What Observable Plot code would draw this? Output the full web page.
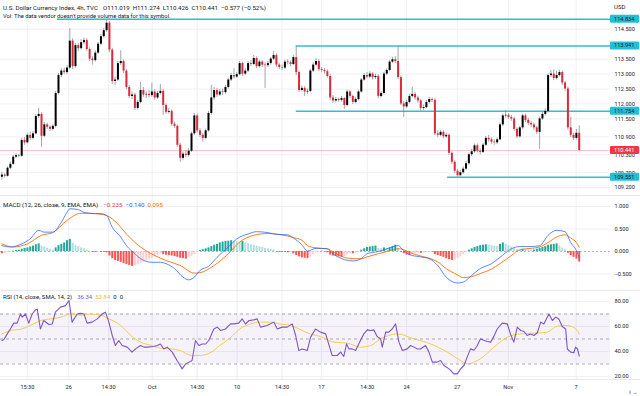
<!DOCTYPE html>
<html><head><meta charset="utf-8">
<script src="https://cdn.jsdelivr.net/npm/d3@7"></script>
<script src="https://cdn.jsdelivr.net/npm/@observablehq/plot@0.6"></script>
<style>
html,body{margin:0;padding:0;background:#fff;}
#chart{position:relative;width:640px;height:396px;overflow:hidden;font-family:Roboto,"Liberation Sans",Arial,sans-serif;color:#131722;}
#chart svg{display:block;}
.t{position:absolute;white-space:nowrap;font-size:6px;line-height:6px;z-index:3;}
.t span{margin-left:3px;}
.sep{position:absolute;left:0;width:640px;height:1px;background:#e6e8ee;z-index:2;}
</style></head>
<body><div id="chart"></div>
<script>
// ---------- DATA ----------
const open = [
109.55,109.62,109.58,109.85,109.98,110.22,110.27,110.25,110.78,110.70,
110.95,110.85,111.00,111.58,111.65,110.92,111.30,111.22,111.15,111.25,
112.35,112.95,113.10,113.05,113.20,114.10,113.25,113.95,113.85,114.05,
114.12,113.82,113.50,113.45,113.70,114.00,114.25,114.45,114.70,113.80,
112.75,112.80,113.35,113.42,113.10,112.55,112.25,112.30,111.85,112.05,
112.45,112.30,112.32,112.28,112.40,112.20,112.35,112.42,111.95,111.72,
111.75,111.32,111.25,110.62,110.18,110.32,110.28,110.42,111.00,111.60,
111.10,110.95,110.85,111.10,111.68,112.20,112.45,112.30,112.40,112.38,
112.55,112.80,112.95,112.90,112.98,113.35,113.00,113.10,113.35,113.32,
113.52,113.25,113.40,113.30,113.28,113.35,113.50,113.62,113.30,113.22,
113.20,113.40,113.38,113.32,113.55,113.05,112.45,112.52,112.40,112.42,
113.10,113.30,113.42,113.15,113.12,113.08,112.92,112.20,112.10,112.15,
112.12,112.18,111.95,112.40,112.25,112.05,112.15,112.40,112.80,112.95,
112.90,113.00,112.88,112.92,112.25,112.35,113.00,113.12,113.40,113.48,
113.42,112.88,112.00,111.90,112.05,112.25,112.32,112.20,112.10,111.85,
111.88,112.05,112.15,112.12,111.00,110.95,111.05,110.90,110.95,110.35,
110.05,109.75,109.60,109.70,109.82,110.00,110.30,110.40,110.60,110.42,
110.38,110.62,110.85,110.80,110.72,110.70,110.80,111.30,111.60,111.62,
111.55,111.50,111.15,110.90,111.20,111.60,111.45,111.35,111.30,111.20,
111.05,111.50,111.65,111.75,112.95,113.00,112.85,112.95,113.05,112.70,
112.50,111.20,110.95,110.85,111.019];
const high = [
109.72,109.68,109.90,110.05,110.28,110.33,110.32,110.85,110.88,111.02,
111.05,111.08,111.65,111.85,111.70,111.38,111.36,111.28,111.32,112.42,
113.02,113.18,113.20,113.28,114.52,114.18,114.02,114.02,114.15,114.20,
114.18,113.88,113.58,113.78,114.06,114.32,114.52,114.80,114.76,113.86,
112.90,113.42,113.78,113.48,113.15,112.62,112.40,112.36,112.12,112.72,
112.55,112.40,112.45,112.70,112.48,112.42,112.65,112.48,112.00,111.85,
111.80,111.40,111.30,110.68,110.40,110.45,110.50,111.06,111.68,111.66,
111.18,111.02,111.16,111.75,112.62,112.55,112.52,112.48,112.50,112.62,
112.86,113.02,113.18,113.05,113.42,113.40,113.18,113.42,113.45,113.62,
113.58,113.46,113.45,113.38,113.42,113.56,113.75,113.68,113.36,113.30,
113.46,113.48,113.44,113.62,113.941,113.10,112.60,112.58,112.50,113.16,
113.38,113.52,113.48,113.22,113.18,113.14,112.98,112.28,112.22,112.20,
112.25,112.22,112.46,112.45,112.30,112.22,112.46,112.86,113.02,113.05,
113.08,113.05,113.00,112.98,112.42,113.06,113.18,113.46,113.56,113.58,
113.941,112.94,112.08,112.12,112.32,112.55,112.38,112.26,112.15,111.96,
112.12,112.22,112.20,112.18,111.10,111.12,111.10,111.02,111.00,110.40,
110.10,109.80,109.78,109.90,110.08,110.36,110.48,110.66,110.66,110.50,
110.68,110.92,110.95,110.86,110.80,110.86,111.36,111.66,111.78,111.68,
111.62,111.56,111.20,111.26,111.66,111.66,111.52,111.42,111.36,111.26,
111.56,111.72,111.84,113.00,113.12,113.14,113.10,113.12,113.10,112.76,
112.56,111.55,111.02,111.15,111.274];
const low = [
109.45,109.52,109.55,109.80,109.95,110.17,110.20,110.22,110.62,110.66,
110.78,110.80,110.96,111.52,110.55,110.88,111.15,111.08,111.10,111.20,
112.30,112.88,112.98,112.98,113.15,113.15,113.20,113.75,113.80,113.98,
113.76,113.42,113.30,113.40,113.66,113.95,114.20,114.40,113.72,112.65,
112.62,112.75,113.28,113.02,112.48,112.18,112.15,111.78,111.80,112.00,
112.22,112.18,112.20,112.22,112.12,112.15,112.30,111.62,111.65,111.66,
111.25,111.18,110.55,110.05,110.12,110.20,110.22,110.38,110.95,111.02,
110.88,110.72,110.80,111.05,111.62,112.12,112.22,112.25,112.28,112.32,
112.50,112.74,112.84,112.85,112.94,112.92,112.95,113.05,113.25,113.28,
113.18,113.20,113.22,112.52,113.22,113.30,113.45,113.22,113.15,113.12,
113.15,113.30,113.25,113.28,112.95,112.38,112.40,112.25,112.32,112.38,
113.05,113.25,113.08,113.05,113.00,112.86,112.12,112.02,112.04,112.05,
112.06,111.82,111.90,112.18,111.98,112.00,112.10,112.36,112.76,112.84,
112.85,112.80,112.82,112.18,112.20,112.30,112.95,113.08,113.35,113.36,
112.82,111.94,111.55,111.85,112.00,112.20,112.12,112.02,111.76,111.78,
111.84,112.00,112.05,110.94,110.88,110.90,110.84,110.85,110.28,109.98,
109.68,109.551,109.56,109.65,109.78,109.95,110.24,110.35,110.36,110.30,
110.34,110.58,110.72,110.65,110.62,110.64,110.76,111.25,111.52,111.48,
111.42,111.08,110.84,110.86,111.15,111.38,111.28,111.22,111.12,110.98,
110.48,111.45,111.60,111.70,112.88,112.78,112.80,112.90,112.62,112.42,
111.12,110.88,110.78,110.80,110.426];
const close = [
109.62,109.58,109.85,109.98,110.22,110.27,110.25,110.78,110.70,110.95,
110.85,111.00,111.58,111.65,110.92,111.30,111.22,111.15,111.25,112.35,
112.95,113.10,113.05,113.20,114.10,113.25,113.95,113.85,114.05,114.12,
113.82,113.50,113.45,113.70,114.00,114.25,114.45,114.70,113.80,112.75,
112.80,113.35,113.42,113.10,112.55,112.25,112.30,111.85,112.05,112.45,
112.30,112.32,112.28,112.40,112.20,112.35,112.42,111.95,111.72,111.75,
111.32,111.25,110.62,110.18,110.32,110.28,110.42,111.00,111.60,111.10,
110.95,110.85,111.10,111.68,112.20,112.45,112.30,112.40,112.38,112.55,
112.80,112.95,112.90,112.98,113.35,113.00,113.10,113.35,113.32,113.52,
113.25,113.40,113.30,113.28,113.35,113.50,113.62,113.30,113.22,113.20,
113.40,113.38,113.32,113.55,113.05,112.45,112.52,112.40,112.42,113.10,
113.30,113.42,113.15,113.12,113.08,112.92,112.20,112.10,112.15,112.12,
112.18,111.95,112.40,112.25,112.05,112.15,112.40,112.80,112.95,112.90,
113.00,112.88,112.92,112.25,112.35,113.00,113.12,113.40,113.48,113.42,
112.88,112.00,111.90,112.05,112.25,112.32,112.20,112.10,111.85,111.88,
112.05,112.15,112.12,111.00,110.95,111.05,110.90,110.95,110.35,110.05,
109.75,109.60,109.70,109.82,110.00,110.30,110.40,110.60,110.42,110.38,
110.62,110.85,110.80,110.72,110.70,110.80,111.30,111.60,111.62,111.55,
111.50,111.15,110.90,111.20,111.60,111.45,111.35,111.30,111.20,111.05,
111.50,111.65,111.75,112.95,113.00,112.85,112.95,113.05,112.70,112.50,
111.20,110.95,110.85,111.02,110.441];

const macdHist = [
-0.05,-0.04,-0.02,-0.01,0.01,0.02,0.03,0.05,0.07,0.08,
0.10,0.12,0.15,0.17,0.12,0.10,0.07,0.05,0.03,0.08,
0.13,0.16,0.19,0.24,0.27,0.18,0.14,0.11,0.08,0.06,
0.03,0.00,-0.02,-0.02,-0.01,-0.02,-0.02,-0.03,-0.10,-0.16,
-0.20,-0.22,-0.24,-0.27,-0.29,-0.31,-0.33,-0.32,-0.30,-0.27,
-0.24,-0.21,-0.18,-0.16,-0.12,-0.09,-0.06,-0.07,-0.08,-0.09,
-0.10,-0.11,-0.13,-0.15,-0.16,-0.17,-0.14,-0.11,-0.07,-0.03,
0.02,0.04,0.06,0.08,0.11,0.14,0.16,0.19,0.21,0.22,
0.23,0.24,0.23,0.22,0.20,0.22,0.19,0.17,0.15,0.14,
0.12,0.10,0.09,0.07,0.06,0.05,0.03,-0.01,-0.02,-0.02,
-0.02,-0.03,-0.02,-0.05,-0.09,-0.12,-0.14,-0.15,-0.16,-0.12,
-0.07,-0.03,-0.01,0.005,-0.01,-0.03,-0.08,-0.10,-0.11,-0.12,
-0.13,-0.11,-0.08,-0.05,-0.05,-0.04,-0.02,0.03,0.06,0.09,
0.10,0.11,0.12,0.07,0.06,0.08,0.07,0.08,0.11,0.14,
0.07,-0.02,-0.05,-0.08,-0.09,-0.07,-0.05,-0.04,-0.04,-0.03,
-0.02,-0.01,-0.01,-0.07,-0.09,-0.11,-0.13,-0.16,-0.18,-0.20,
-0.19,-0.16,-0.12,-0.07,-0.02,0.03,0.06,0.09,0.11,0.13,
0.14,0.15,0.14,0.13,0.12,0.11,0.16,0.19,0.16,0.13,
0.10,0.07,0.04,0.03,0.05,0.04,0.03,0.02,0.03,0.05,
0.07,0.09,0.11,0.14,0.15,0.16,0.17,0.12,0.08,0.04,
-0.04,-0.09,-0.13,-0.17,-0.235];

// MACD line and signal line: [bar index, value]
const macdLine = [[0,0.13],[3,0.10],[7,0.17],[10,0.28],[13,0.47],[15,0.43],[18,0.43],[21,0.65],[23,0.87],[24,0.95],[27,0.93],[29,0.87],[31,0.85],[35,0.84],[37,0.80],[39,0.54],[42,0.32],[44,0.13],[47,-0.05],[49,-0.16],[53,-0.24],[56,-0.24],[58,-0.27],[61,-0.38],[64,-0.57],[66,-0.63],[68,-0.57],[70,-0.42],[73,-0.33],[76,-0.13],[80,0.10],[83,0.28],[87,0.39],[90,0.44],[94,0.42],[97,0.38],[101,0.37],[103,0.30],[106,0.15],[108,0.01],[111,0.07],[115,0.06],[117,-0.05],[121,-0.18],[124,-0.21],[127,-0.16],[129,-0.05],[133,0.0],[136,0.06],[140,0.13],[142,0.02],[144,-0.07],[148,-0.12],[151,-0.16],[154,-0.31],[157,-0.57],[161,-0.70],[163,-0.68],[166,-0.53],[169,-0.38],[173,-0.27],[176,-0.13],[180,0.06],[183,0.11],[187,0.11],[190,0.13],[193,0.36],[196,0.47],[199,0.44],[201,0.20],[203,0.02],[204,-0.14]];
const signalLine = [[0,0.17],[4,0.10],[9,0.17],[14,0.36],[18,0.42],[23,0.69],[28,0.85],[33,0.84],[37,0.80],[41,0.61],[44,0.39],[49,0.10],[54,-0.09],[58,-0.20],[63,-0.31],[68,-0.48],[70,-0.47],[75,-0.31],[80,-0.05],[84,0.21],[89,0.36],[94,0.40],[98,0.38],[103,0.31],[106,0.25],[108,0.13],[111,0.08],[115,0.06],[117,-0.01],[121,-0.13],[124,-0.16],[127,-0.16],[129,-0.12],[133,-0.05],[136,0.0],[140,0.06],[142,0.04],[144,-0.02],[148,-0.10],[151,-0.15],[154,-0.23],[157,-0.38],[161,-0.52],[163,-0.58],[166,-0.56],[169,-0.49],[173,-0.39],[176,-0.27],[180,-0.09],[183,0.04],[187,0.07],[190,0.10],[193,0.20],[196,0.32],[199,0.37],[201,0.30],[203,0.20],[204,0.095]];

// RSI and its SMA: [bar index, value]
const rsiLine = [[0,48.8],[0.7,49.6],[1.9,54.1],[3,58],[4.2,62.7],[5.4,62.7],[6.6,70.1],[7.2,67.5],[8.3,70],[9.5,62.7],[10.7,70],[11.9,73.3],[12.5,74],[13.6,58],[14.8,64.8],[16.6,61.6],[17.8,62],[18.9,71.5],[20.7,75.5],[22.5,76.7],[23.7,80.8],[24.8,63.5],[26.6,70],[27.8,70.5],[29,70],[30.1,62.7],[31.9,63.5],[33.7,66.1],[35.4,70],[36.6,71.5],[37.8,63.5],[39,52.8],[40.1,44.8],[41.3,48.8],[42.5,44.8],[44.3,43.5],[46,39.5],[47.2,42.1],[49,44.8],[50.2,43.5],[51.3,43.5],[53.7,44],[54.9,44.8],[56,46],[57.2,42],[58.4,43.5],[60.2,39.5],[61.9,32.8],[63.7,26.1],[64.9,30],[66.1,31.5],[67.2,32.8],[68.4,48.8],[69.6,44.8],[70.8,46],[72,46],[73.1,48.8],[74.9,58],[76.1,59.5],[77.3,56.8],[79,58],[80.8,62.1],[82,62.1],[83.7,62.7],[84.9,66.1],[86.1,62],[87.3,64.8],[89,65.3],[90.2,66.1],[91.4,59.5],[93.7,60.8],[96.1,63.5],[97.3,58],[99,59.5],[100.8,59.5],[102.6,62.1],[103.8,52.8],[104.9,40.8],[106.1,42],[107.9,40.8],[109.1,51.5],[110.8,58],[112.6,55.5],[114.4,54.1],[116.7,36.8],[118.5,36.8],[119.7,39.5],[120.8,36],[121.8,46.1],[122.6,42.1],[123.8,42.1],[125,40.8],[126.7,48.8],[127.9,54.1],[129.1,57.3],[130.3,56.8],[131.4,57.3],[132.6,52],[133.8,50.1],[134.4,43.5],[135.6,55.5],[136.7,55.5],[137.9,58],[139.1,62.1],[140.3,47.5],[141.5,40.8],[143.2,42.1],[144.4,44.8],[145.6,43.5],[146.8,42],[147.9,42],[149.7,44.8],[150.9,39.5],[152.1,31.5],[153.8,31.5],[155,32.8],[156.2,28.8],[158,26.1],[159.7,22.1],[160.9,22.1],[162.1,26.1],[163.3,28.8],[164.4,35.5],[165.6,42.1],[166.8,41],[168,44.8],[169.1,50.1],[170.3,49],[171.5,48],[172.7,47.5],[173.9,52.3],[175,58],[176.8,62.7],[178.6,62.1],[179.7,54],[180.9,47.5],[182.1,59.5],[183.3,56.8],[184.5,56],[185.6,52.8],[186.8,54],[188,52.8],[189.2,55],[190.4,63.5],[191.5,62],[193.3,70],[194.5,64.8],[195.7,67.5],[196.8,66],[198,60],[199.2,58],[199.8,42],[201,39.5],[202.1,39],[202.7,43.5],[203.4,42],[204,36.34]];
const rsiMA = [[0,54],[3,56.8],[7,58],[10,60.8],[14,65],[17,66],[21,67.5],[24,70],[28,69],[31,70],[35,69],[38,66],[42,60.8],[45,54],[49,47.5],[53,44.8],[56,42.7],[60,42.1],[63,40.8],[67,36.8],[70,36.8],[74,39.5],[77,44.8],[81,51.5],[84,58],[88,62.1],[91,63.5],[95,63.5],[98,62.1],[102,60.8],[105,58],[109,54],[112.6,52],[117.3,47.5],[122,46.7],[126.7,43.5],[130.3,44.8],[133.8,50.1],[139.7,54.1],[145.6,50.1],[151.5,46.1],[157.4,39.5],[162.1,32.8],[164.4,30.1],[169.1,34.2],[173.9,43.5],[178.6,51.5],[183.3,54.1],[188,54.7],[192.7,55.5],[196.2,60.3],[199.8,60.8],[203.3,56.8],[204,53.84]];

// horizontal levels drawn on the chart: value and first bar
const levelValues = [114.834, 113.941, 111.754, 109.551];
const levelStart = [19.6, 104, 104, 157.5];

// axis ticks
const priceTicks = [114.5, 113.5, 113.0, 112.5, 112.0, 111.5, 110.9, 110.3, 109.7, 109.2];
const macdTicks = [1, 0.5, 0, -0.5];
const rsiTicks = [80, 60, 40, 20];
const rsiBands = [70, 50, 30];
const timeTickIdx = [9, 23.6, 37.7, 53.1, 69, 83.1, 99, 112.9, 129.1, 143, 160.9, 178.9, 202.9];
const timeTickLabels = ["15:30", "26", "14:30", "Oct", "14:30", "10", "14:30", "17", "14:30", "24", "27", "Nov", "7"];

const legendMacd = ["\u22120.235", "\u22120.140", "0.095"];
const legendRsi = ["36.34", "53.84", "0", "0"];
const changeText = "\u22120.577 (\u22120.52%)";

// ---------- LAYOUT ----------
const FONT = 'Roboto, "Liberation Sans", Arial, sans-serif';
const W = 640, MR = 30;
const xDom = [-0.49, 215.05];
const GRID = "#eef0f4";
const style = {fontFamily: FONT, fontSize: "5.6px", color: "#1e222d", overflow: "visible", background: "transparent"};
const N = close.length;
const bars = close.map((c, i) => ({i, o: open[i], h: high[i], l: low[i], c}));
const hist = macdHist.map((h, i) => {
  const p = i > 0 ? macdHist[i - 1] : h;
  const col = h >= 0 ? (h > p ? "#26a69a" : "#b2dfdb") : (h > p ? "#ffcdd2" : "#ff5252");
  return {i, h, col};
});
const pts = a => a.map(([i, v]) => ({i, v}));
const labelOf = new Map(timeTickIdx.map((d, k) => [d, timeTickLabels[k]]));
const levels = levelValues.map((v, k) => ({v, s: levelStart[k]}));
const lastClose = close[N - 1];

const chart = document.getElementById("chart");

const price = Plot.plot({
  width: W, height: 195, marginTop: 0, marginBottom: 0, marginLeft: 0, marginRight: MR,
  x: {domain: xDom, axis: null},
  y: {domain: [108.938, 115.46], axis: null},
  style,
  marks: [
    Plot.gridX(timeTickIdx, {stroke: GRID, strokeOpacity: 1}),
    Plot.gridY(priceTicks, {stroke: GRID, strokeOpacity: 1}),
    Plot.axisY(priceTicks, {anchor: "right", tickSize: 0, tickPadding: 4, tickFormat: d3.format(".3f"), fill: "#1e222d"}),
    Plot.ruleY([lastClose], {stroke: "#f23645", strokeOpacity: 0.3}),
    Plot.ruleY(levels, {y: "v", x1: "s", x2: xDom[1], stroke: "#2bbfd6", strokeWidth: 1.5}),
    Plot.ruleX(bars, {x: "i", y1: "l", y2: "h", stroke: "#8e8e8e", strokeWidth: 0.8}),
    Plot.ruleX(bars, {x: "i", y1: "o", y2: "c", stroke: d => d.c >= d.o ? "#000000" : "#e0283c", strokeWidth: 2})
  ]
});

const macd = Plot.plot({
  width: W, height: 95, marginTop: 0, marginBottom: 0, marginLeft: 0, marginRight: MR,
  x: {domain: xDom, axis: null},
  y: {domain: [-0.8667, 1.2444], axis: null},
  style,
  marks: [
    Plot.gridX(timeTickIdx, {stroke: GRID, strokeOpacity: 1}),
    Plot.gridY(macdTicks.filter(d => d !== 0), {stroke: GRID, strokeOpacity: 1}),
    Plot.ruleY([0], {stroke: "#9598a1", strokeDasharray: "2,2", strokeOpacity: 0.7}),
    Plot.axisY(macdTicks, {anchor: "right", tickSize: 0, tickPadding: 4, tickFormat: d3.format(".3f"), fill: "#1e222d"}),
    Plot.ruleX(hist, {x: "i", y1: 0, y2: "h", stroke: "col", strokeWidth: 2}),
    Plot.line(pts(signalLine), {x: "i", y: "v", stroke: "#ff6d00", strokeWidth: 0.9, curve: "monotone-x"}),
    Plot.line(pts(macdLine), {x: "i", y: "v", stroke: "#2962ff", strokeWidth: 0.9, strokeOpacity: 0.85, curve: "monotone-x"})
  ]
});

const rsi = Plot.plot({
  width: W, height: 106, marginTop: 0, marginBottom: 17, marginLeft: 0, marginRight: MR,
  x: {domain: xDom, axis: null},
  y: {domain: [17.6, 88.8], axis: null},
  style,
  marks: [
    Plot.gridX(timeTickIdx, {stroke: GRID, strokeOpacity: 1}),
    Plot.gridY(rsiTicks, {stroke: GRID, strokeOpacity: 1}),
    Plot.rect([{lo: rsiBands[2], hi: rsiBands[0]}], {x1: xDom[0], x2: xDom[1], y1: "lo", y2: "hi", fill: "#7e57c2", fillOpacity: 0.08}),
    Plot.ruleY(rsiBands, {stroke: "#787b86", strokeDasharray: "3,3", strokeOpacity: 0.6}),
    Plot.axisY(rsiTicks, {anchor: "right", tickSize: 0, tickPadding: 4, tickFormat: d3.format(".2f"), fill: "#1e222d"}),
    Plot.axisX(timeTickIdx, {anchor: "bottom", tickSize: 0, tickPadding: 6, tickFormat: d => labelOf.get(d), fill: "#1e222d"}),
    Plot.line(pts(rsiMA), {x: "i", y: "v", stroke: "#f2d04b", strokeWidth: 1, curve: "monotone-x"}),
    Plot.line(pts(rsiLine), {x: "i", y: "v", stroke: "#7e57c2", strokeWidth: 1.1})
  ]
});

chart.append(price, macd, rsi);

// price labels in the right gutter, placed with the plot's own y scale
const yS = price.scale("y");
const gl = d3.select(price).append("g").attr("text-anchor", "start");
function tag(value, bg, fg) {
  const y = yS.apply(value);
  gl.append("rect").attr("x", W - MR).attr("y", y - 4).attr("width", 29).attr("height", 8).attr("rx", 1).attr("fill", bg);
  gl.append("text").attr("x", W - MR + 4).attr("y", y).attr("dy", "0.35em").attr("fill", fg)
    .attr("text-anchor", "start").attr("font-size", "5.6px").attr("font-family", FONT).text(value.toFixed(3));
}
levelValues.forEach(v => tag(v, "#22bfd7", "#131722"));
tag(lastClose, "#f23645", "#ffffff");

// separators and header texts
function sep(top) { const d = document.createElement("div"); d.className = "sep"; d.style.top = top + "px"; chart.append(d); }
sep(194.5); sep(289.5); sep(379);
function txt(html, left, top, size) { const d = document.createElement("div"); d.className = "t"; d.style.left = left + "px"; d.style.top = top + "px"; if (size) d.style.fontSize = size + "px"; d.innerHTML = html; chart.append(d); }
const last = bars[N - 1];
txt(`U.S. Dollar Currency Index, 4h, TVC<span style="margin-left:5px">O${last.o.toFixed(3)}</span><span>H${last.h.toFixed(3)}</span><span>L${last.l.toFixed(3)}</span><span>C${last.c.toFixed(3)}</span><span>${changeText}</span>`, 3, 4.5, 6.2);
txt(`Vol: The data vendor doesn't provide volume data for this symbol.`, 3, 12.5, 5.8);
txt(`MACD (12, 26, close, 9, EMA, EMA)<span style="color:#f23645;margin-left:5px">${legendMacd[0]}</span><span style="color:#2962ff">${legendMacd[1]}</span><span style="color:#ff6d00">${legendMacd[2]}</span>`, 3, 202, 6.2);
txt(`RSI (14, close, SMA, 14, 2)<span style="color:#7e57c2;margin-left:5px">${legendRsi[0]}</span><span style="color:#e8c22a">${legendRsi[1]}</span><span>${legendRsi[2]}</span><span>${legendRsi[3]}</span>`, 3, 294.3, 6);
txt(`USD`, 614, 4);
</script></body></html>
